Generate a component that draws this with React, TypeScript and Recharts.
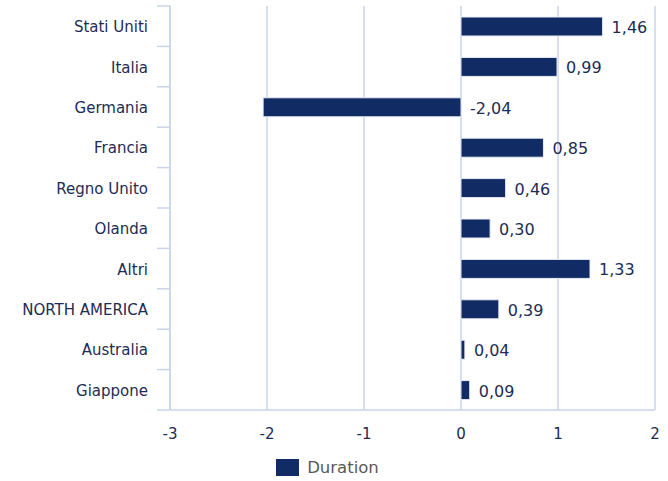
import { BarChart, Bar, XAxis, YAxis, CartesianGrid, Legend, LabelList } from "recharts"

const categories = [
  "Stati Uniti",
  "Italia",
  "Germania",
  "Francia",
  "Regno Unito",
  "Olanda",
  "Altri",
  "NORTH AMERICA",
  "Australia",
  "Giappone",
]
const duration = [1.46, 0.99, -2.04, 0.85, 0.46, 0.3, 1.33, 0.39, 0.04, 0.09]
const xTicks = [-3, -2, -1, 0, 1, 2]

const data = categories.map((name, i) => ({ name, duration: duration[i] }))

const NAVY = "#112b64"
const TEXT = "#1c2c54"
const GRID = "#c9d5e8"
const FONT = "'DejaVu Sans', Verdana, sans-serif"

const CHART_H = 481
const MARGIN = { top: 6, right: 13, bottom: 3, left: 0 }
const PLOT_H = 404
const BAND = PLOT_H / categories.length

const fmt = (v: number) => v.toFixed(2).replace(".", ",")

// tick x arrives already shifted left of the axis (tickSize + margin = 8px)
function CategoryTick(props: any) {
  const { x, y, payload, index } = props
  const last = index === categories.length - 1
  const ax = x + 8
  return (
    <g>
      <line x1={ax - 13} x2={ax} y1={y - BAND / 2} y2={y - BAND / 2} stroke={GRID} strokeWidth={1.5} />
      {last && <line x1={ax - 13} x2={ax} y1={y + BAND / 2} y2={y + BAND / 2} stroke={GRID} strokeWidth={1.5} />}
      <text x={ax - 22} y={y} dy={6} textAnchor="end" fill={TEXT} fontSize={15} fontFamily={FONT}>
        {payload.value}
      </text>
    </g>
  )
}

function ValueLabel(props: any) {
  const { x, y, width, height, value } = props
  const end = Math.max(x, x + width)
  return (
    <text x={end + 9} y={y + height / 2} dy={6.5} fill={TEXT} fontSize={16} fontFamily={FONT}>
      {fmt(value)}
    </text>
  )
}

function LegendBox() {
  return (
    <div style={{ display: "flex", justifyContent: "center", alignItems: "flex-end", height: 38 }}>
      <div style={{ display: "flex", alignItems: "center", height: 22 }}>
        <span style={{ width: 23, height: 17, background: NAVY, display: "inline-block", marginRight: 8 }} />
        <span style={{ color: "#595959", fontSize: 16.5, fontFamily: FONT }}>Duration</span>
      </div>
    </div>
  )
}

export default function App() {
  return (
    <div style={{ position: "absolute", left: 0, top: 0, background: "#fff" }}>
      <BarChart width={668} height={CHART_H} data={data} layout="vertical" margin={MARGIN}>
        <CartesianGrid vertical horizontal={false} stroke={GRID} strokeWidth={1.5} />
        <XAxis
          type="number"
          domain={[-3, 2]}
          ticks={xTicks}
          axisLine={{ stroke: GRID, strokeWidth: 1.5 }}
          tickLine={false}
          tick={{ fill: TEXT, fontSize: 15, fontFamily: FONT }}
          tickMargin={12}
          height={30}
        />
        <YAxis
          type="category"
          dataKey="name"
          width={170}
          axisLine={{ stroke: GRID, strokeWidth: 1.5 }}
          tickLine={false}
          tick={<CategoryTick />}
          interval={0}
        />
        <Legend verticalAlign="bottom" height={38} content={<LegendBox />} />
        <Bar dataKey="duration" fill={NAVY} stroke="#e8ecf4" strokeWidth={1} barSize={19} isAnimationActive={false}>
          <LabelList dataKey="duration" content={<ValueLabel />} />
        </Bar>
      </BarChart>
    </div>
  )
}
